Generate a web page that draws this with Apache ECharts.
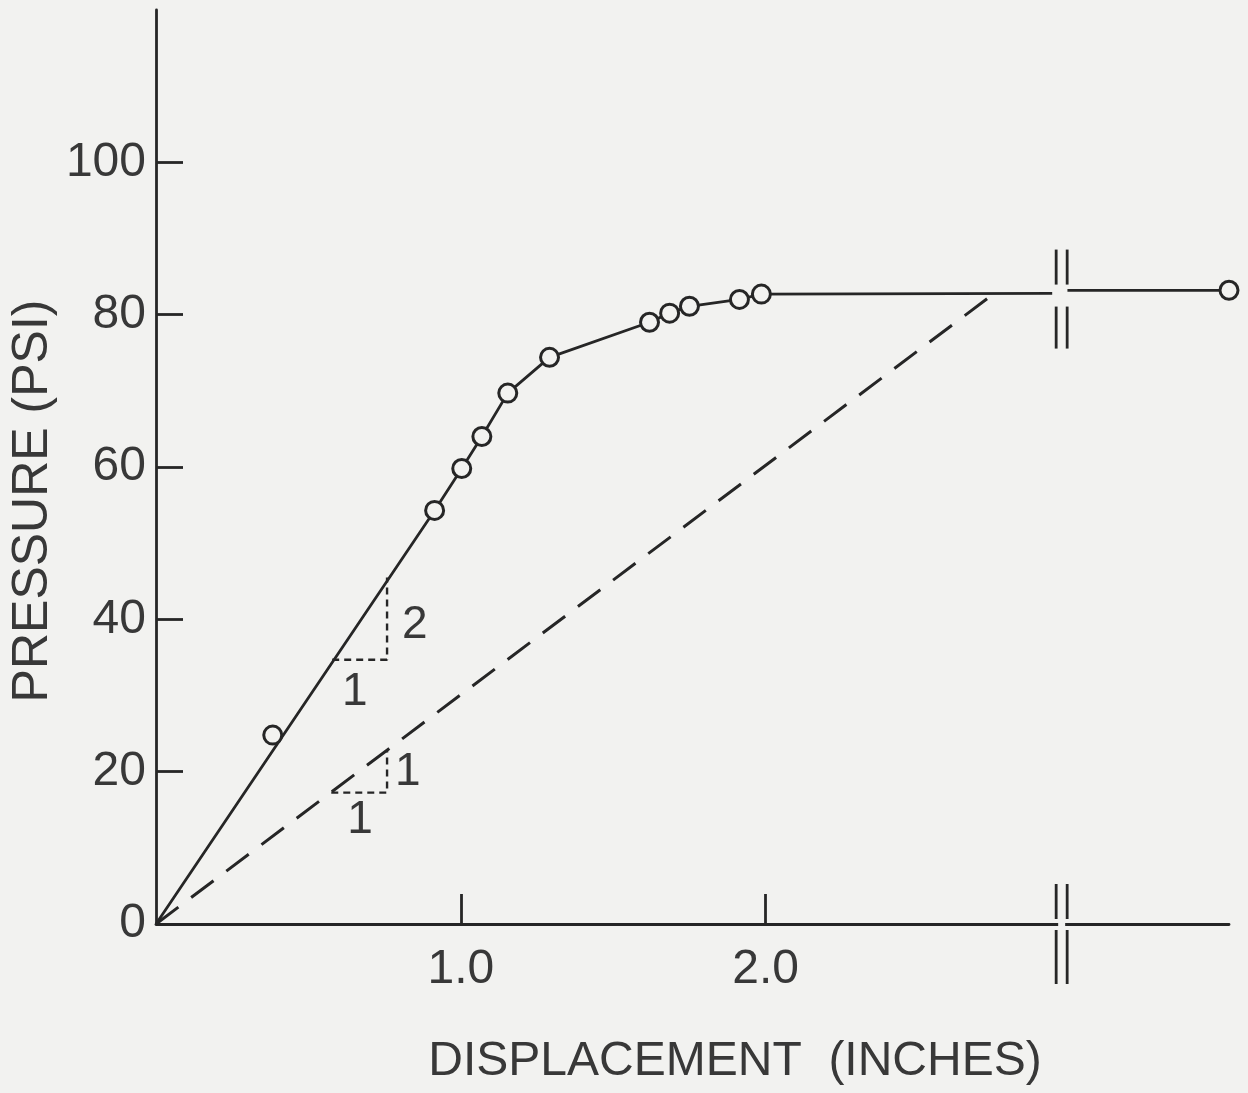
<!DOCTYPE html>
<html>
<head>
<meta charset="utf-8">
<script src="https://cdn.jsdelivr.net/npm/echarts@6/dist/echarts.min.js"></script>
<style>
  html, body { margin: 0; padding: 0; background: #f2f2f0; }
  #chart { width: 1248px; height: 1093px; }
</style>
</head>
<body>
<div id="chart"></div>
<script>
// Measured test points (displacement in inches, pressure in psi)
const testDisplacement = [0.383, 0.914, 1.003, 1.069, 1.154, 1.291, 1.619, 1.685, 1.750, 1.914, 1.986, 3.52];
const testPressure     = [24.8, 54.3, 59.8, 64.0, 69.7, 74.4, 79.0, 80.2, 81.1, 82.0, 82.7, 83.2];

// Faired load curve, drawn up to the axis break and resumed after it
const curveBeforeBreakX = [0, 0.914, 1.003, 1.069, 1.154, 1.291, 1.619, 1.685, 1.750, 1.914, 1.986, 2.94];
const curveBeforeBreakY = [0, 54.3, 59.8, 64.0, 69.7, 74.4, 79.0, 80.2, 81.1, 82.0, 82.7, 82.8];
const curveAfterBreakX  = [2.99, 3.52];
const curveAfterBreakY  = [83.2, 83.2];

// Reference slope line (dashed) from the origin to the plateau
const referenceX = [0, 2.75];
const referenceY = [0, 82.8];

// Slope triangles: 2:1 under the solid curve, 1:1 under the dashed line
const steepTriangleX = [0.578, 0.758, 0.758];
const steepTriangleY = [34.7, 34.7, 45.5];
const shallowTriangleX = [0.575, 0.758, 0.758];
const shallowTriangleY = [17.25, 17.25, 22.7];
const slopeLabelText = ['2', '1', '1', '1'];
const slopeLabelX = [0.849, 0.652, 0.826, 0.669];
const slopeLabelY = [39.2, 30.4, 19.9, 13.6];

// Axis ticks and labels
const xTickValues = [1, 2];
const yTickValues = [20, 40, 60, 80, 100];
const yLabelValues = [0, 20, 40, 60, 80, 100];
const breakAt = 2.953;

const INK = '#262626';
const TEXT = '#383838';
const PAPER = '#f2f2f0';
const FONT = '"Liberation Sans", Arial, sans-serif';

const zip = (xs, ys) => xs.map((x, i) => [x, ys[i]]);

const chart = echarts.init(document.getElementById('chart'), null, { renderer: 'canvas' });

const option = {
  backgroundColor: PAPER,
  animation: false,
  grid: { left: 156, right: 19, top: 10, bottom: 169, containLabel: false, outerBoundsMode: 'none' },
  xAxis: {
    type: 'value', min: 0, max: 3.52,
    axisLine: { show: true, lineStyle: { color: INK, width: 2.8 } },
    axisTick: { show: true, inside: true, length: 30, customValues: xTickValues, lineStyle: { color: INK, width: 2.8 } },
    axisLabel: {
      customValues: xTickValues, formatter: v => v.toFixed(1),
      margin: 22, fontSize: 48, color: TEXT, fontFamily: FONT
    },
    splitLine: { show: false }
  },
  yAxis: {
    type: 'value', min: 0, max: 120,
    axisLine: { show: true, lineStyle: { color: INK, width: 2.8 } },
    axisTick: { show: true, inside: true, length: 27, customValues: yTickValues, lineStyle: { color: INK, width: 2.8 } },
    axisLabel: {
      customValues: yLabelValues, margin: 10,
      fontSize: 48, color: TEXT, fontFamily: FONT
    },
    splitLine: { show: false }
  },
  series: [
    {
      type: 'line', data: zip(curveBeforeBreakX, curveBeforeBreakY),
      symbol: 'none', lineStyle: { color: INK, width: 2.8 }, z: 3
    },
    {
      type: 'line', data: zip(curveAfterBreakX, curveAfterBreakY),
      symbol: 'none', lineStyle: { color: INK, width: 2.8 }, z: 3
    },
    {
      type: 'line', data: zip(referenceX, referenceY),
      symbol: 'none', lineStyle: { color: INK, width: 3, type: [28, 16] }, z: 2
    },
    {
      type: 'line', data: zip(steepTriangleX, steepTriangleY),
      symbol: 'none', lineStyle: { color: INK, width: 2.4, type: [7, 5] }, z: 2
    },
    {
      type: 'line', data: zip(shallowTriangleX, shallowTriangleY),
      symbol: 'none', lineStyle: { color: INK, width: 2.4, type: [7, 5] }, z: 2
    },
    {
      type: 'scatter', data: zip(testDisplacement, testPressure),
      symbol: 'circle', symbolSize: 18,
      itemStyle: { color: PAPER, borderColor: INK, borderWidth: 3, opacity: 1 },
      z: 5
    }
  ],
  graphic: [
    {
      type: 'text', x: 735, y: 1062,
      style: {
        text: 'DISPLACEMENT  (INCHES)', font: '48px ' + FONT, fill: TEXT,
        align: 'center', verticalAlign: 'middle'
      }
    },
    {
      type: 'text', x: 33, y: 501, rotation: Math.PI / 2,
      style: {
        text: 'PRESSURE (PSI)', font: '50px ' + FONT, fill: TEXT,
        align: 'center', verticalAlign: 'middle'
      }
    }
  ]
};

chart.setOption(option);

// Slope labels and axis-break marks, positioned through the chart's scales
const toPx = p => chart.convertToPixel({ gridIndex: 0 }, p);
const extra = [];

slopeLabelText.forEach((t, i) => {
  const [px, py] = toPx([slopeLabelX[i], slopeLabelY[i]]);
  extra.push({
    type: 'text', x: px, y: py,
    style: { text: t, font: '46px ' + FONT, fill: TEXT, align: 'center', verticalAlign: 'middle' }
  });
});

const [bx, axisY] = toPx([breakAt, 0]);
const [, curveY] = toPx([breakAt, 82.9]);
const breakLine = (x, y1, y2) => ({
  type: 'line', shape: { x1: x, y1: y1, x2: x, y2: y2 },
  style: { stroke: INK, lineWidth: 2.8 }, z: 10
});
// small gap in the axis line between the break strokes
extra.push({ type: 'rect', shape: { x: bx + 2, y: axisY - 3, width: 7, height: 6 }, style: { fill: PAPER }, z: 9 });
[0, 11].forEach(dx => {
  const x = bx + dx;
  extra.push(breakLine(x, axisY - 40, axisY - 5));
  extra.push(breakLine(x, axisY + 6, axisY + 60));
  extra.push(breakLine(x, curveY - 43, curveY - 8));
  extra.push(breakLine(x, curveY + 14, curveY + 56));
});

chart.setOption({ graphic: option.graphic.concat(extra) });
</script>
</body>
</html>
